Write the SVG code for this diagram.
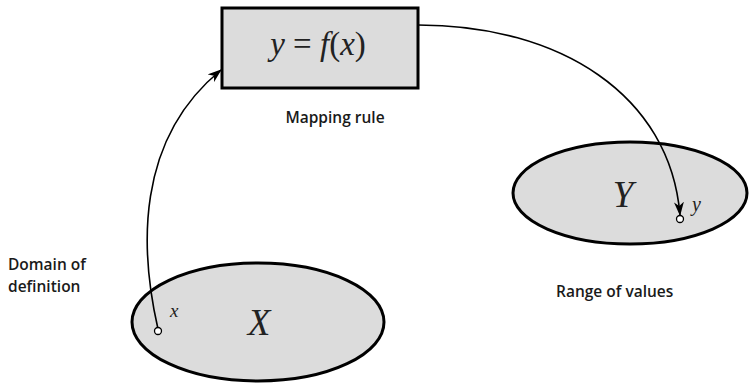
<svg xmlns="http://www.w3.org/2000/svg" width="749" height="385" viewBox="0 0 749 385">
<style>
.shape{fill:#dcdcdc;stroke:#000;stroke-width:3}
.math{font-family:"Liberation Serif",serif;font-style:italic;fill:#222}
.up{font-style:normal}
.lbl{font-family:"Open Sans","Noto Sans",sans-serif;font-size:15.5px;font-weight:600;fill:#1a1a1a}
.conn{fill:none;stroke:#000;stroke-width:1.6}
.pt{fill:#fff;stroke:#000;stroke-width:1.3}
</style>
<defs>
<marker id="ah" viewBox="0 0 14 10" refX="13" refY="5" markerWidth="14" markerHeight="10" markerUnits="userSpaceOnUse" orient="auto">
<path d="M0,0 L14,5 L0,10 L4,5 z" fill="#000"/>
</marker>
</defs>
<rect width="749" height="385" fill="#fff"/>
<g id="rule">
<rect class="shape" x="222" y="8" width="196" height="80"/>
<text class="math" x="318" y="55" font-size="33" text-anchor="middle">y<tspan class="up"> = </tspan>f<tspan class="up">(</tspan>x<tspan class="up">)</tspan></text>
<text class="lbl" x="335" y="123" text-anchor="middle">Mapping rule</text>
</g>
<g id="domain">
<ellipse class="shape" cx="258" cy="322" rx="126" ry="59"/>
<text class="math" x="259" y="335" font-size="37" text-anchor="middle">X</text>
<text class="math" x="170" y="317" font-size="19">x</text>
<text class="lbl" x="8" y="270">Domain of</text>
<text class="lbl" x="8" y="292">definition</text>
</g>
<g id="range">
<ellipse class="shape" cx="630" cy="193" rx="117" ry="51"/>
<text class="math" x="623" y="207" font-size="37" text-anchor="middle">Y</text>
<text class="math" x="692" y="211" font-size="20">y</text>
<text class="lbl" x="556" y="297">Range of values</text>
</g>
<g id="connectors">
<path class="conn" d="M158,329 C140,250 135,140 221,70" marker-end="url(#ah)"/>
<path class="conn" d="M418,25 C560,25 670,95 680,215" marker-end="url(#ah)"/>
</g>
<g id="points">
<circle class="pt" cx="158" cy="331" r="3.5"/>
<circle class="pt" cx="680" cy="219" r="3.5"/>
</g>
</svg>
